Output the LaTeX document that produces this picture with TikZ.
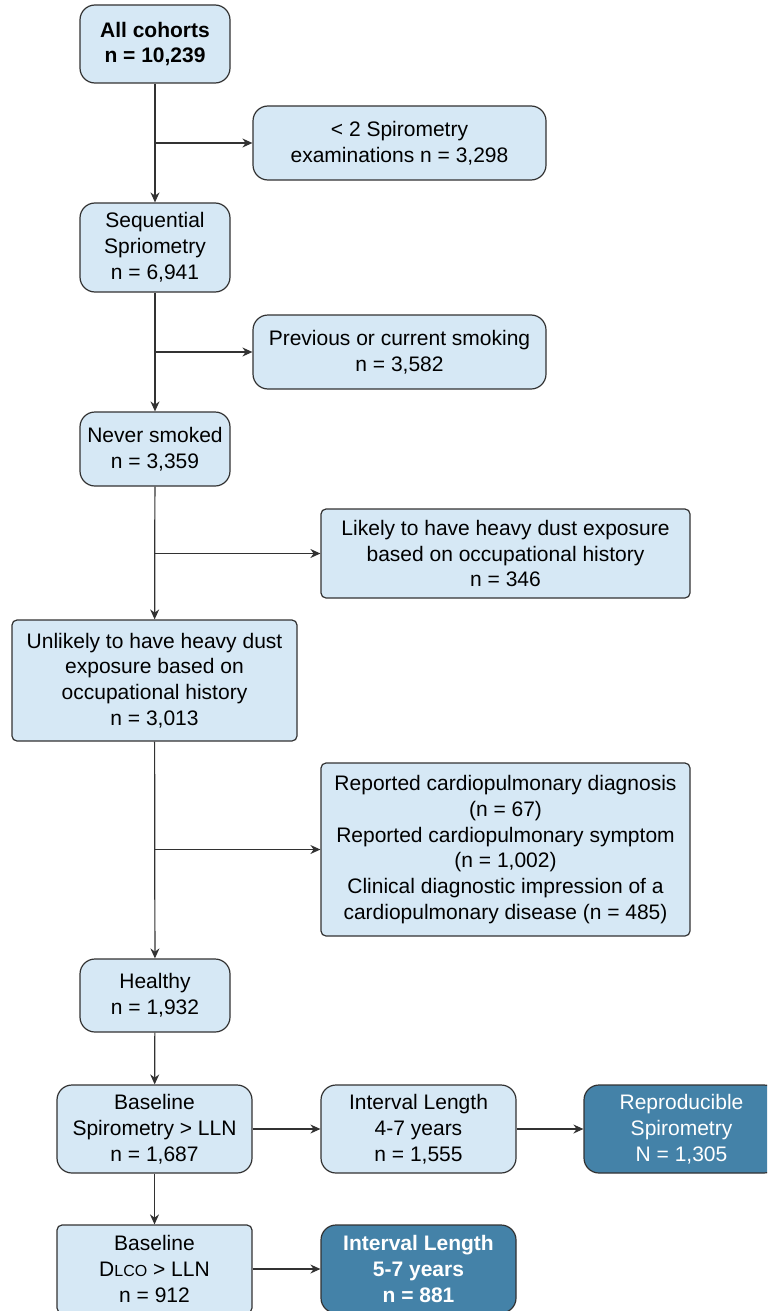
\documentclass[tikz,border=0pt]{standalone}
\usepackage{fontspec}
\setmainfont{Liberation Sans}
\usetikzlibrary{arrows.meta}
\definecolor{boxblue}{RGB}{214,232,245}
\definecolor{boxdark}{RGB}{68,130,168}
\definecolor{boxline}{RGB}{50,50,50}
\newcommand{\dlco}{D{\fontsize{8}{8}\selectfont LCO}}
\begin{document}
\begin{tikzpicture}[x=0.5pt,y=-0.5pt,
  box/.style={draw=boxline,fill=boxblue,line width=0.6pt,rounded corners=7.5pt,
    align=center,inner sep=0pt,font=\fontsize{10.5}{12.9}\selectfont},
  sqbox/.style={box,rounded corners=2.5pt},
  darkbox/.style={box,fill=boxdark,text=white},
  arr/.style={-{Stealth[length=5pt,width=4.5pt]},line width=0.6pt,draw=boxline}]
\useasboundingbox (0,0) rectangle (767,1311);
\clip (0,0) rectangle (767,1311);
\node[box,minimum width=75pt,minimum height=39pt,font=\fontsize{10.5}{12.9}\selectfont\bfseries] (all) at (155,44) {All cohorts\\n = 10,239};
\node[box,minimum width=146.5pt,minimum height=37pt] (lt2) at (399.5,143) {< 2 Spirometry\\examinations n = 3,298};
\node[box,minimum width=75pt,minimum height=44.5pt] (seq) at (155,247.5) {Sequential\\Spriometry\\n = 6,941};
\node[box,minimum width=146.5pt,minimum height=37pt] (smk) at (399.5,352) {Previous or current smoking\\n = 3,582};
\node[box,minimum width=75pt,minimum height=37pt] (never) at (155,449) {Never smoked\\n = 3,359};
\node[sqbox,minimum width=184.5pt,minimum height=44.5pt] (dust) at (505.5,553.5) {Likely to have heavy dust exposure\\based on occupational history\\n = 346};
\node[sqbox,minimum width=142.5pt,minimum height=60.5pt] (nodust) at (154.5,680.5) {Unlikely to have heavy dust\\exposure based on\\occupational history\\n = 3,013};
\node[sqbox,minimum width=184.5pt,minimum height=86.5pt] (cardio) at (505.5,849.5) {Reported cardiopulmonary diagnosis\\(n = 67)\\Reported cardiopulmonary symptom\\(n = 1,002)\\Clinical diagnostic impression of a\\cardiopulmonary disease (n = 485)};
\node[box,minimum width=75pt,minimum height=36.5pt] (healthy) at (155,995.5) {Healthy\\n = 1,932};
\node[box,minimum width=97.5pt,minimum height=44pt] (basespiro) at (154.5,1129) {Baseline\\Spirometry > LLN\\n = 1,687};
\node[box,minimum width=97.5pt,minimum height=44pt] (int47) at (418.5,1129) {Interval Length\\4-7 years\\n = 1,555};
\node[darkbox,minimum width=97.5pt,minimum height=44pt] (repro) at (681.5,1129) {Reproducible\\Spirometry\\N = 1,305};
\node[sqbox,minimum width=97.5pt,minimum height=44pt] (basedlco) at (154.5,1269) {Baseline\\\dlco{} > LLN\\n = 912};
\node[darkbox,minimum width=97.5pt,minimum height=44pt,font=\fontsize{10.5}{12.9}\selectfont\bfseries] (int57) at (418.5,1269) {Interval Length\\5-7 years\\n = 881};
\draw[arr] (all) -- (seq);
\draw[arr] (all.south |- lt2) -- (lt2);
\draw[arr] (seq) -- (never);
\draw[arr] (seq.south |- smk) -- (smk);
\draw[arr] (never) -- (nodust);
\draw[arr] (never.south |- dust) -- (dust);
\draw[arr] (nodust) -- (healthy);
\draw[arr] (healthy.north |- cardio) -- (cardio);
\draw[arr] (healthy) -- (basespiro);
\draw[arr] (basespiro) -- (int47);
\draw[arr] (int47) -- (repro);
\draw[arr] (basespiro) -- (basedlco);
\draw[arr] (basedlco) -- (int57);
\end{tikzpicture}
\end{document}
